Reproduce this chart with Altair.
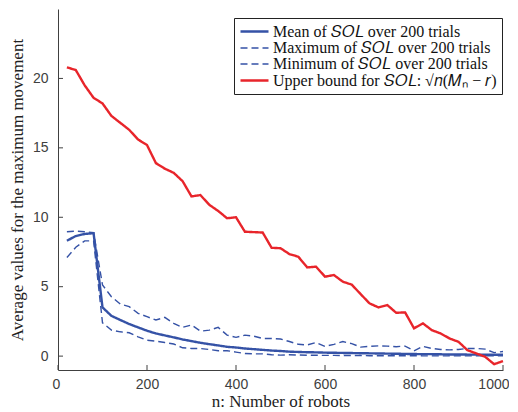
import altair as alt
import pandas as pd

n_robots = [20, 40, 60, 80, 100, 120, 140, 160, 180, 200,
            220, 240, 260, 280, 300, 320, 340, 360, 380, 400,
            420, 440, 460, 480, 500, 520, 540, 560, 580, 600,
            620, 640, 660, 680, 700, 720, 740, 760, 780, 800,
            820, 840, 860, 880, 900, 920, 940, 960, 980, 1000]

mean_vals = [8.31, 8.65, 8.80, 8.85, 3.51, 2.90, 2.60, 2.31, 2.07, 1.83,
             1.63, 1.49, 1.35, 1.20, 1.08, 0.96, 0.86, 0.77, 0.67, 0.62,
             0.55, 0.50, 0.45, 0.40, 0.37, 0.32, 0.30, 0.28, 0.27, 0.25,
             0.24, 0.23, 0.22, 0.21, 0.20, 0.19, 0.18, 0.17, 0.16, 0.15,
             0.14, 0.14, 0.13, 0.12, 0.12, 0.11, 0.11, 0.10, 0.10, 0.10]

max_vals = [8.96, 9.00, 8.96, 8.89, 5.12, 4.28, 3.75, 3.56, 3.08, 2.84,
            2.60, 2.79, 2.36, 2.07, 2.24, 1.80, 1.87, 2.07, 1.51, 1.35,
            1.51, 1.44, 1.27, 1.27, 1.23, 1.05, 0.85, 0.80, 0.98, 0.70,
            0.85, 1.05, 0.90, 0.65, 0.70, 0.74, 0.72, 0.68, 0.72, 0.38,
            0.70, 0.55, 0.48, 0.45, 0.48, 0.55, 0.55, 0.50, 0.25, 0.33]

min_vals = [7.10, 7.84, 8.30, 8.30, 2.40, 1.87, 1.75, 1.68, 1.39, 1.15,
            1.08, 0.98, 0.87, 0.60, 0.55, 0.55, 0.48, 0.39, 0.39, 0.29,
            0.19, 0.16, 0.16, 0.10, 0.07, 0.10, 0.08, 0.06, 0.06, 0.05,
            0.05, 0.04, 0.04, 0.04, 0.03, 0.03, 0.03, 0.03, 0.03, 0.03,
            0.02, 0.02, 0.02, 0.02, 0.02, 0.02, 0.02, 0.02, 0.02, 0.02]

upper_vals = [20.8, 20.6, 19.5, 18.6, 18.2, 17.3, 16.8, 16.3, 15.6, 15.2,
              13.9, 13.5, 13.2, 12.6, 11.5, 11.6, 10.9, 10.45, 9.93, 10.0,
              8.96, 8.93, 8.9, 7.8, 7.77, 7.35, 7.16, 6.39, 6.44, 5.72,
              5.84, 5.36, 5.15, 4.47, 3.8, 3.51, 3.68, 3.12, 3.15, 2.0,
              2.36, 1.87, 1.63, 1.27, 1.03, 0.43, 0.19, -0.05, -0.58, -0.36]

series_names = [
    "Mean of 𝑆𝑂𝐿 over 200 trials",
    "Maximum of 𝑆𝑂𝐿 over 200 trials",
    "Minimum of 𝑆𝑂𝐿 over 200 trials",
    "Upper bound for 𝑆𝑂𝐿: √𝑛(𝑀ₙ − 𝑟)",
]

x_ticks = [0, 200, 400, 600, 800, 1000]
y_ticks = [0, 5, 10, 15, 20]

BLUE = "#3552a6"
RED = "#e8252b"

rows = []
for name, vals in zip(series_names, [mean_vals, max_vals, min_vals, upper_vals]):
    for i, (n, v) in enumerate(zip(n_robots, vals)):
        rows.append({"n": n, "value": v, "series": name, "order": i})
df = pd.DataFrame(rows)

W, H = 445, 361

xscale = alt.Scale(domain=[0, 1000], nice=False, zero=False)
yscale = alt.Scale(domain=[-1, 25], nice=False, zero=False)

legend = alt.Legend(
    title=None, orient="none", legendX=176, legendY=9,
    fillColor="white", strokeColor="#222222",
    padding=5, symbolType="M-1,0L3,0", symbolSize=196,
    labelFont="Liberation Serif", labelFontSize=16, labelColor="#111111",
    labelOffset=17, rowPadding=0, labelLimit=500,
)

lines = alt.Chart(df).mark_line().encode(
    x=alt.X("n:Q", scale=xscale,
            axis=alt.Axis(values=x_ticks, title="n: Number of robots", grid=False,
                          tickSize=0, labelPadding=7, format="d", titlePadding=2,
                          labelFlush=True, labelFlushOffset=6)),
    y=alt.Y("value:Q", scale=yscale,
            axis=alt.Axis(values=y_ticks, title="Average values for the maximum movement",
                          grid=False, tickSize=0, labelPadding=10, format="d", titlePadding=6,
                          labelFlush=False)),
    color=alt.Color("series:N", scale=alt.Scale(domain=series_names,
                                                range=[BLUE, BLUE, BLUE, RED]),
                    legend=legend),
    strokeDash=alt.StrokeDash("series:N", scale=alt.Scale(domain=series_names,
                                                          range=[[1, 0], [7, 4], [7, 4], [1, 0]]),
                              legend=legend),
    strokeWidth=alt.StrokeWidth("series:N", scale=alt.Scale(type="ordinal", domain=series_names,
                                                            range=[2.4, 1.4, 1.4, 2.4]),
                                legend=legend),
    order="order:Q",
)

xt = pd.DataFrame({"t": x_ticks})
yt = pd.DataFrame({"t": y_ticks})

xtick_rules = alt.Chart(xt).mark_rule(color="#404040", strokeWidth=1).encode(
    x=alt.X("t:Q", scale=xscale),
    y=alt.value(H), y2=alt.value(H - 5),
)
ytick_rules = alt.Chart(yt).mark_rule(color="#404040", strokeWidth=1).encode(
    y=alt.Y("t:Q", scale=yscale),
    x=alt.value(0), x2=alt.value(5),
)

chart = alt.layer(lines, xtick_rules, ytick_rules).properties(
    width=W, height=H,
    padding={"left": 0, "top": 1, "right": 0, "bottom": 0},
).configure_view(stroke=None).configure_axis(
    domainColor="#404040", domainWidth=1,
    labelFont="Liberation Sans", labelFontSize=14, labelColor="#404040",
    titleFont="Liberation Serif", titleFontSize=17, titleColor="#222222",
    titleFontWeight="normal",
)

chart.save("out.html", embed_options={"renderer": "svg", "actions": False})
